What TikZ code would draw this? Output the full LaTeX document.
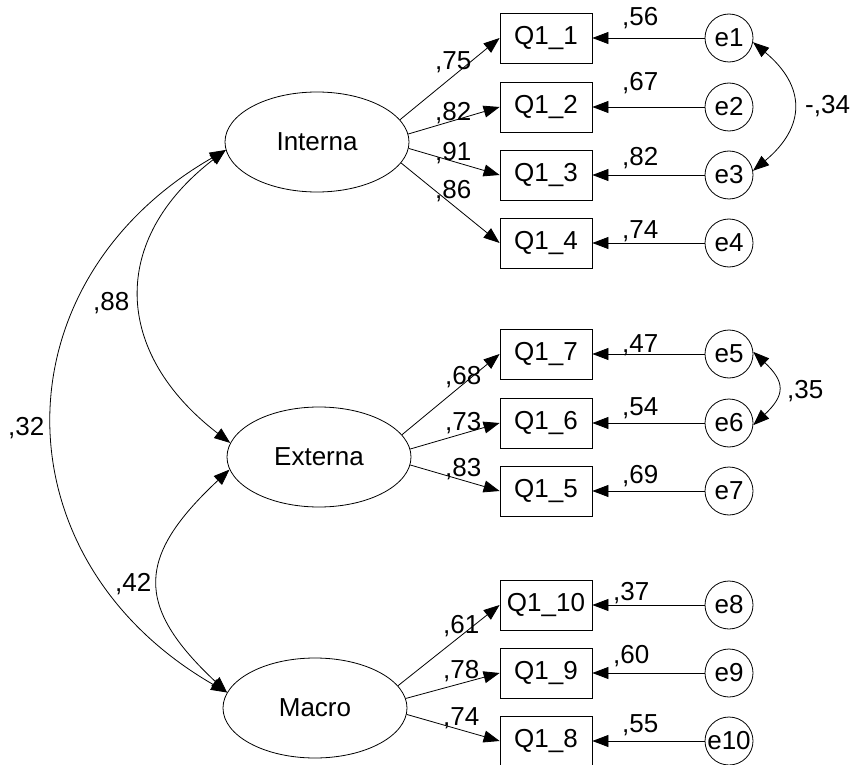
\documentclass[tikz,border=0pt]{standalone}
\usepackage{fontspec}
\setmainfont{Liberation Sans}
\usetikzlibrary{arrows.meta,shapes.geometric}
\begin{document}
\begin{tikzpicture}[x=1pt,y=1pt,
  font=\fontsize{26}{30}\selectfont,
  lat/.style={draw,ellipse,minimum width=184pt,minimum height=100pt,inner sep=0pt,line width=0.8pt},
  obs/.style={draw,rectangle,minimum width=92pt,minimum height=50pt,inner sep=0pt,line width=0.8pt},
  err/.style={draw,circle,minimum size=48pt,inner sep=0pt,line width=0.8pt},
  arr/.style={line width=0.8pt,-{Triangle[length=16pt,width=12pt]}},
  cov/.style={line width=0.8pt,{Triangle[length=16pt,width=12pt]}-{Triangle[length=16pt,width=12pt]}},
  lbl/.style={anchor=base west,inner sep=0pt}]
\useasboundingbox (0,0) rectangle (852,-765);

% latent variables
\node[lat] (int) at (317,-142) {Interna};
\node[lat] (ext) at (319,-457) {Externa};
\node[lat] (mac) at (315,-708) {Macro};

% observed variables
\node[obs] (q1) at (546,-38) {Q1\_1};
\node[obs] (q2) at (546,-107) {Q1\_2};
\node[obs] (q3) at (546,-175) {Q1\_3};
\node[obs] (q4) at (546,-243) {Q1\_4};
\node[obs] (q7) at (546,-354) {Q1\_7};
\node[obs] (q6) at (546,-423) {Q1\_6};
\node[obs] (q5) at (546,-491) {Q1\_5};
\node[obs] (q10) at (546,-605) {Q1\_10};
\node[obs] (q9) at (546,-673) {Q1\_9};
\node[obs] (q8) at (546,-741) {Q1\_8};

% errors
\node[err] (e1) at (729,-38) {e1};
\node[err] (e2) at (729,-107) {e2};
\node[err] (e3) at (729,-175) {e3};
\node[err] (e4) at (729,-243) {e4};
\node[err] (e5) at (729,-354) {e5};
\node[err] (e6) at (729,-423) {e6};
\node[err] (e7) at (729,-491) {e7};
\node[err] (e8) at (729,-605) {e8};
\node[err] (e9) at (729,-673) {e9};
\node[err] (e10) at (729,-741) {e10};

% loadings
\draw[arr] (int.15) -- (q1.west);
\draw[arr] (int.5.5) -- (q2.west);
\draw[arr] (int.-4.5) -- (q3.west);
\draw[arr] (int.-14) -- (q4.west);
\draw[arr] (ext.15) -- (q7.west);
\draw[arr] (ext.5.5) -- (q6.west);
\draw[arr] (ext.-5) -- (q5.west);
\draw[arr] (mac.15) -- (q10.west);
\draw[arr] (mac.6) -- (q9.west);
\draw[arr] (mac.-4.5) -- (q8.west);

% error paths
\draw[arr] (e1.west) -- (q1.east);
\draw[arr] (e2.west) -- (q2.east);
\draw[arr] (e3.west) -- (q3.east);
\draw[arr] (e4.west) -- (q4.east);
\draw[arr] (e5.west) -- (q7.east);
\draw[arr] (e6.west) -- (q6.east);
\draw[arr] (e7.west) -- (q5.east);
\draw[arr] (e8.west) -- (q10.east);
\draw[arr] (e9.west) -- (q9.east);
\draw[arr] (e10.west) -- (q8.east);

% covariances
\draw[cov] (e1.-10) .. controls +(53,-44) and +(53,44) .. (e3.10);
\draw[cov] (e5.5) .. controls +(32,-30) and +(32,30) .. (e6.-5);
\draw[cov] (int.185) .. controls +(-117,-90) and +(-117,90) .. (ext.171);
\draw[cov] (ext.188) .. controls +(-93,-87) and +(-93,87) .. (mac.170);
\draw[cov] (int.185) .. controls +(-231,-133) and +(-231,133) .. (mac.170);

% loading labels
\node[lbl] (l75) at (435,-70) {,75};
\node[lbl] (l82) at (435,-121) {,82};
\node[lbl] (l91) at (435,-161) {,91};
\node[lbl] (l86) at (435,-199) {,86};
\node[lbl] (l68) at (445,-384) {,68};
\node[lbl] (l73) at (445,-430) {,73};
\node[lbl] (l83) at (445,-476) {,83};
\node[lbl] (l61) at (443,-633) {,61};
\node[lbl] (l78) at (443,-678) {,78};
\node[lbl] (l74) at (443,-725) {,74};

% error labels
\node[lbl] (m56) at (622,-26) {,56};
\node[lbl] (m67) at (622,-91) {,67};
\node[lbl] (m82) at (622,-166) {,82};
\node[lbl] (m74) at (622,-238) {,74};
\node[lbl] (m47) at (622,-352) {,47};
\node[lbl] (m54) at (622,-415) {,54};
\node[lbl] (m69) at (622,-483) {,69};
\node[lbl] (m37) at (613,-600) {,37};
\node[lbl] (m60) at (613,-663) {,60};
\node[lbl] (m55) at (622,-732) {,55};

% covariance labels
\node[lbl] (c34) at (805,-114) {-,34};
\node[lbl] (c35) at (787,-398) {,35};
\node[lbl] (c88) at (93,-310) {,88};
\node[lbl] (c32) at (8,-435) {,32};
\node[lbl] (c42) at (115,-591) {,42};
\end{tikzpicture}
\end{document}
